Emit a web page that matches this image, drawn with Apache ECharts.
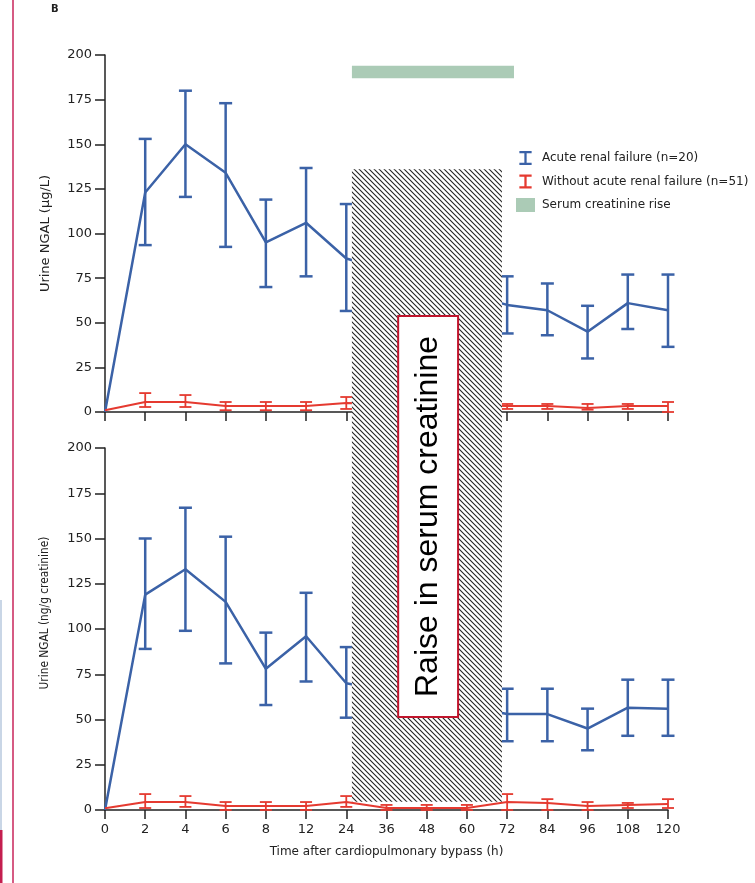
<!DOCTYPE html>
<html><head><meta charset="utf-8">
<script src="https://cdn.jsdelivr.net/npm/echarts@6/dist/echarts.min.js"></script>
<style>html,body{margin:0;padding:0;background:#fff}#c{width:755px;height:883px}</style>
</head><body><div id="c"></div>
<script>
// ---- data ----
const timeLabels = ['0','2','4','6','8','12','24','36','48','60','72','84','96','108','120'];
const nameARF = 'Acute renal failure (n=20)';
const nameNoARF = 'Without acute renal failure (n=51)';
const nameRise = 'Serum creatinine rise';

// Panel A: urine NGAL (µg/L)
const aArfMean = [0,123,150,134,95,106,86,null,null,null,60,57,45,61,57];
const aArfLow  = [null,93.5,120.5,92.5,70,76,56.6,null,null,null,44,43,30,46.5,36.5];
const aArfHigh = [null,153,180,173,119,136.7,116.5,null,null,null,76,72,59.5,77,77];
const aNoMean  = [1,5.6,5.6,3.4,3.4,3.4,5,null,null,null,3.4,3.4,2.2,3.4,3.4];
const aNoLow   = [null,2.8,2.8,1,1,1,1.7,null,null,null,1.7,1.7,1.3,1.7,0];
const aNoHigh  = [null,10.6,9.5,5.6,5.6,5.6,8.4,null,null,null,4.5,4.5,4.5,4.5,5.6];

// Panel B: urine NGAL (ng/g creatinine)
const bArfMean = [0,119,133,115,78,96,70,null,null,null,53,53,45,56.5,56];
const bArfLow  = [null,89,99,81,58,71,51,null,null,null,38,38,33,41,41];
const bArfHigh = [null,150,167,151,98,120,90,null,null,null,67,67,56,72,72];
const bNoMean  = [1,4.4,4.4,2.2,2.2,2.2,4.4,1.1,1.1,1.1,4.4,3.9,2.2,2.8,3.3];
const bNoLow   = [null,1.1,1.7,0,0,0,1.7,0,0,0,0,0,0,1.1,1.1];
const bNoHigh  = [null,8.8,7.7,4.4,4.4,4.4,7.7,2.8,2.8,2.8,8.8,6,4.4,3.9,6];

// Serum creatinine rise period (x index range, y range in panel A)
const riseX = [6.14, 10.17];
const riseY = [187, 194];
// Hatched "raise in serum creatinine" period
const hatchX = [6.14, 9.87];
const hatchTopA = 136;   // value in panel A
const hatchBottomB = 4.5; // value in panel B
const boxX = [7.29, 8.78];
const boxTopA = 53.8;
const boxBottomB = 51.4;

// ---- styles ----
const BLUE = '#3b62a7';
const RED = '#e53a30';
const GREEN = '#abcbb6';
const AXIS = '#222';
const FONT = 'DejaVu Sans';
const IPATH = 'path://M0,0h14v2.6h-5.7v10.8h5.7v2.6h-14v-2.6h5.7v-10.8h-5.7z';

function pts(mean){ return mean.map((v,i)=>[i, v==null?'-':v]); }
function errs(lo, hi){ const d=[]; lo.forEach((v,i)=>{ if(v!=null && hi[i]!=null) d.push([i, v, hi[i]]); }); return d; }
function errRender(capHalf, width, color){
  return function(params, api){
    const x = api.value(0);
    const pLo = api.coord([x, api.value(1)]), pHi = api.coord([x, api.value(2)]);
    const st = {stroke: color, lineWidth: width};
    return {type:'group', children:[
      {type:'line', shape:{x1:pLo[0], y1:pLo[1], x2:pHi[0], y2:pHi[1]}, style: st},
      {type:'line', shape:{x1:pLo[0]-capHalf, y1:pLo[1], x2:pLo[0]+capHalf, y2:pLo[1]}, style: st},
      {type:'line', shape:{x1:pHi[0]-capHalf, y1:pHi[1], x2:pHi[0]+capHalf, y2:pHi[1]}, style: st}
    ]};
  };
}
function errSeries(name, idx, lo, hi, color, cap, w){
  return {type:'custom', name, xAxisIndex: idx, yAxisIndex: idx, itemStyle:{color},
    renderItem: errRender(cap, w, color), data: errs(lo, hi), encode:{x:0, y:[1,2]}, z: 3};
}
function lineSeries(name, idx, mean, color, w){
  return {type:'line', name, xAxisIndex: idx, yAxisIndex: idx, data: pts(mean), symbol:'none',
    connectNulls: true, lineStyle:{color, width:w}, itemStyle:{color}, z: 2, animation:false};
}

const xAxisBase = (idx, showLabel) => ({
  type:'value', gridIndex: idx, min:0, max:14, interval:1,
  axisLine:{show:true, onZero:false, lineStyle:{color:AXIS, width:1.5}},
  axisTick:{show:true, length:9, lineStyle:{color:AXIS, width:1.5}},
  splitLine:{show:false},
  axisLabel:{show:showLabel, formatter: v => timeLabels[v] || '', fontFamily:FONT, fontSize:13, color:AXIS, margin:13}
});
const yAxisBase = (idx, name, extra) => Object.assign({
  type:'value', gridIndex: idx, min:0, max:200, interval:25,
  axisLine:{show:true, lineStyle:{color:AXIS, width:1.5}},
  axisTick:{show:true, length:10, lineStyle:{color:AXIS, width:1.5}},
  splitLine:{show:false},
  axisLabel:{fontFamily:FONT, fontSize:13, color:AXIS, margin:13},
  name, nameLocation:'middle'
}, extra);

const chart = echarts.init(document.getElementById('c'), null, {renderer:'canvas'});
const option = {
  animation:false,
  backgroundColor:'#fff',
  grid:[{left:105, top:55, width:563, height:357}, {left:105, top:448, width:563, height:362}],
  xAxis:[
    xAxisBase(0, false),
    Object.assign(xAxisBase(1, true), {name:'Time after cardiopulmonary bypass (h)', nameLocation:'middle', nameGap:36,
      nameTextStyle:{fontFamily:FONT, fontSize:12, color:AXIS}})
  ],
  yAxis:[
    yAxisBase(0, 'Urine NGAL (µg/L)', {nameGap:53, nameTextStyle:{fontFamily:FONT, fontSize:13, color:AXIS}}),
    yAxisBase(1, 'Urine NGAL (ng/g creatinine)', {nameGap:54, nameTextStyle:{fontFamily:'"DejaVu Sans Condensed", sans-serif', fontSize:11.8, color:AXIS, padding:[0,0,0,32]}})
  ],
  legend:{
    orient:'vertical', left:511, top:146, itemWidth:19, itemHeight:14, itemGap:9.5, selectedMode:false,
    textStyle:{fontFamily:FONT, fontSize:12, color:AXIS, padding:[0,0,0,2]},
    data:[{name:nameARF, icon:IPATH}, {name:nameNoARF, icon:IPATH}, {name:nameRise, icon:'rect'}]
  },
  series:[
    errSeries(nameARF, 0, aArfLow, aArfHigh, BLUE, 6.5, 2.5),
    errSeries(nameNoARF, 0, aNoLow, aNoHigh, RED, 6, 1.8),
    {type:'custom', name:nameRise, xAxisIndex:0, yAxisIndex:0, itemStyle:{color:GREEN},
      data:[[riseX[0], riseX[1], riseY[0], riseY[1]]],
      renderItem:(p, api)=>{
        const a = api.coord([api.value(0), api.value(3)]), b = api.coord([api.value(1), api.value(2)]);
        return {type:'rect', shape:{x:a[0], y:a[1], width:b[0]-a[0], height:b[1]-a[1]}, style:{fill:GREEN}};
      }},
    lineSeries(nameARF, 0, aArfMean, BLUE, 2.5),
    lineSeries(nameNoARF, 0, aNoMean, RED, 2),
    errSeries(nameARF, 1, bArfLow, bArfHigh, BLUE, 6.5, 2.5),
    errSeries(nameNoARF, 1, bNoLow, bNoHigh, RED, 6, 1.8),
    lineSeries(nameARF, 1, bArfMean, BLUE, 2.5),
    lineSeries(nameNoARF, 1, bNoMean, RED, 2)
  ]
};
chart.setOption(option);

// hatch pattern
const T = 5;
const pc = document.createElement('canvas');
pc.width = T; pc.height = T;
const g = pc.getContext('2d');
g.fillStyle = '#fff'; g.fillRect(0,0,T,T);
g.strokeStyle = '#222'; g.lineWidth = 1.1;
g.beginPath();
g.moveTo(-1,-1); g.lineTo(T+1,T+1);
g.moveTo(-1,T-1); g.lineTo(1,T+1);
g.moveTo(T-1,-1); g.lineTo(T+1,1);
g.stroke();

const hTL = chart.convertToPixel({gridIndex:0}, [hatchX[0], hatchTopA]);
const hBR = chart.convertToPixel({gridIndex:1}, [hatchX[1], hatchBottomB]);
const bTL = chart.convertToPixel({gridIndex:0}, [boxX[0], boxTopA]);
const bBR = chart.convertToPixel({gridIndex:1}, [boxX[1], boxBottomB]);

chart.setOption({
  graphic:[
    {type:'rect', z:100, shape:{x:hTL[0], y:hTL[1], width:hBR[0]-hTL[0], height:hBR[1]-hTL[1]},
      style:{fill:{image:pc, repeat:'repeat'}}},
    {type:'rect', z:101, shape:{x:bTL[0], y:bTL[1], width:bBR[0]-bTL[0], height:bBR[1]-bTL[1]},
      style:{fill:'#fff', stroke:'#c0142c', lineWidth:2}},
    {type:'text', z:102, x:(bTL[0]+bBR[0])/2, y:(bTL[1]+bBR[1])/2, rotation:Math.PI/2,
      style:{text:'Raise in serum creatinine', font:'32px "Liberation Sans", Arial, sans-serif', fill:'#000',
        textAlign:'center', textVerticalAlign:'middle'}},
    {type:'line', z:100, shape:{x1:13, y1:0, x2:13, y2:883}, style:{stroke:'#c8255a', lineWidth:1.5}},
    {type:'rect', z:100, shape:{x:0, y:600, width:2, height:230}, style:{fill:'#c9d6e6'}},
    {type:'rect', z:100, shape:{x:0, y:830, width:2.5, height:53}, style:{fill:'#c41e4f'}},
    {type:'text', z:100, x:51, y:4, style:{text:'B', font:'bold 10px "DejaVu Sans"', fill:'#222'}}
  ]
});
</script>
</body></html>
